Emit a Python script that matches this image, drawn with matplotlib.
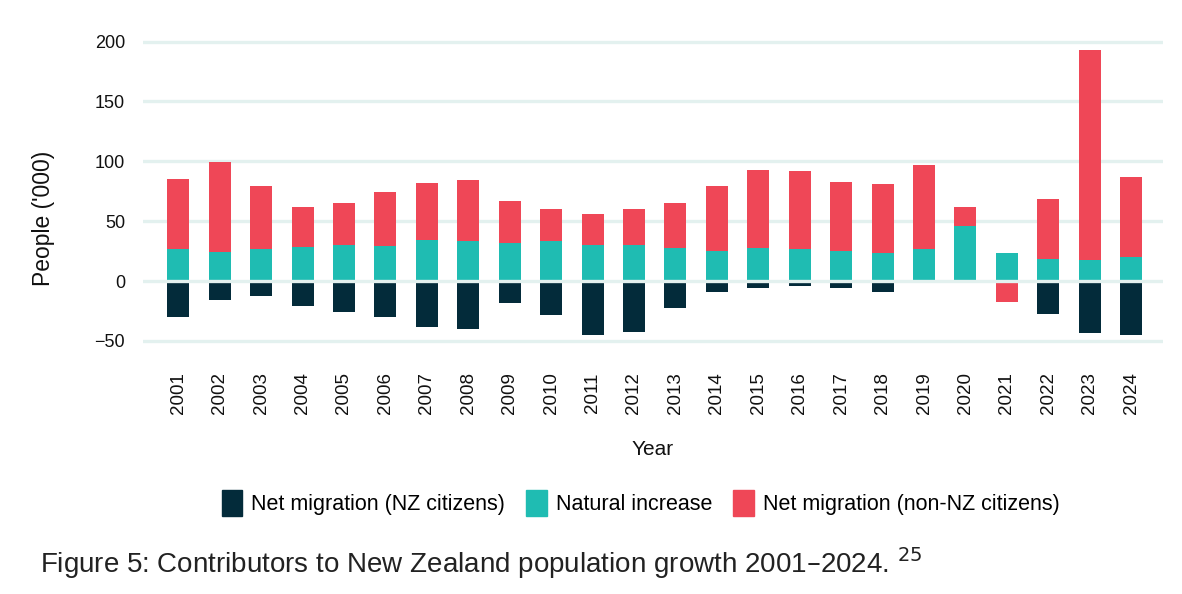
import matplotlib
matplotlib.use("Agg")
import matplotlib.pyplot as plt
from matplotlib.patches import Patch
import numpy as np

years = [str(y) for y in range(2001, 2025)]
nz_citizens = [-29.7, -15.6, -12.2, -20.6, -25.6, -29.7, -38.0, -39.7, -18.0, -28.0, -44.7, -42.2,
               -22.2, -8.9, -5.6, -3.9, -5.6, -8.9, 0.0, 0.0, 0.0, -27.2, -43.0, -44.7]
natural_increase = [27.0, 24.4, 27.0, 28.6, 30.3, 29.4, 34.4, 33.6, 31.9, 33.6, 30.3, 30.3,
                    27.8, 25.3, 27.8, 26.9, 25.3, 23.6, 26.9, 46.1, 23.6, 18.6, 17.8, 20.3]
non_nz_citizens = [58.3, 75.0, 52.4, 33.3, 35.0, 45.0, 47.5, 50.8, 35.0, 26.7, 25.8, 30.0,
                   37.5, 54.1, 65.0, 65.0, 57.5, 57.5, 70.0, 15.8, -17.2, 50.0, 175.0, 66.6]
series = [("Net migration (NZ citizens)", nz_citizens, "#032b3a"),
          ("Natural increase", natural_increase, "#1fbcb2"),
          ("Net migration (non-NZ citizens)", non_nz_citizens, "#ef4757")]
yticks = [-50, 0, 50, 100, 150, 200]

fam = ["Liberation Sans", "DejaVu Sans"]
plt.rcParams['font.family'] = fam

fig = plt.figure(figsize=(11.82, 5.94), dpi=100)
ax = fig.add_axes([0.121, 0.42, 0.863, 0.516])

x = np.arange(len(years))
pos = np.zeros(len(years))
neg = np.zeros(len(years))
for name, vals, col in series:
    v = np.array(vals)
    bottoms = np.where(v >= 0, pos, neg)
    ax.bar(x, v, width=0.53, bottom=bottoms, color=col, label=name, zorder=2)
    pos = pos + np.where(v > 0, v, 0)
    neg = neg + np.where(v < 0, v, 0)

gridcol = "#e3f1ef"
for t in yticks:
    ax.axhline(t, color=gridcol, lw=2.4, zorder=1 if t != 0 else 3)

ax.set_xlim(-0.85, len(years) - 0.23)
ax.set_ylim(-53, 203)
ax.set_yticks(yticks)
ax.set_yticklabels(["\u221250" if t < 0 else str(t) for t in yticks], fontsize=13, color="#111111")
ax.set_xticks(x)
ax.set_xticklabels(years, rotation=90, fontsize=13.5, color="#111111")
ax.tick_params(axis='both', length=0)
ax.tick_params(axis='x', pad=20)
ax.tick_params(axis='y', pad=13)
for s in ax.spines.values():
    s.set_visible(False)
ax.set_xlabel("Year", fontsize=15, color="#111111")
ax.xaxis.set_label_coords(0.5, -0.31)
ax.set_ylabel("People ('000)", fontsize=16.5, color="#111111")
ax.yaxis.set_label_coords(-0.086, 0.41)

handles = [Patch(color=c, label=n) for n, _, c in series]
fig.legend(handles=handles, loc='center', bbox_to_anchor=(0.542, 0.153), ncol=3, frameon=False,
           fontsize=15.5, handlelength=0.95, handleheight=1.45, handletextpad=0.4, columnspacing=1.0)

fig.text(0.034, 0.035, "Figure 5: Contributors to New Zealand population growth 2001\u20132024. $^{25}$",
         fontsize=20, color="#222222")

fig.savefig("out.png", dpi=100, facecolor="white")
